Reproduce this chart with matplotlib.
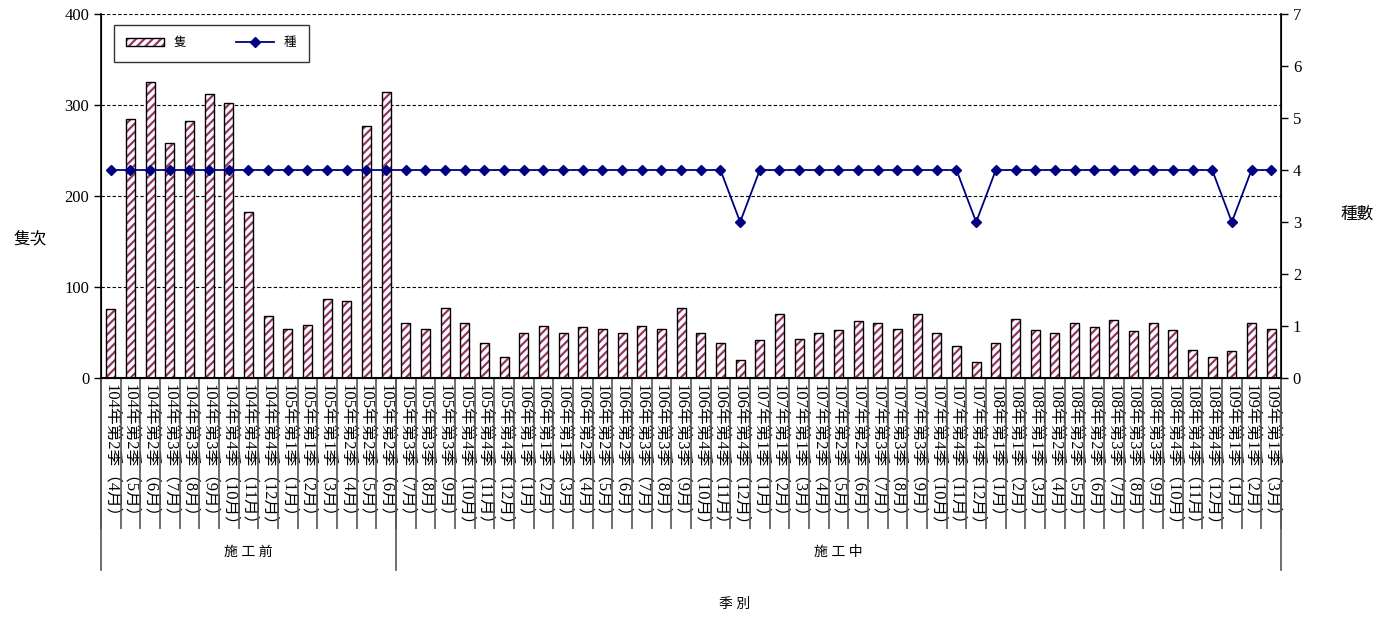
import numpy as np
import matplotlib
matplotlib.use('Agg')
import matplotlib.pyplot as plt
from matplotlib.lines import Line2D

plt.rcParams['font.family'] = ['Liberation Serif', 'Noto Sans CJK TC']
plt.rcParams['hatch.color'] = '#993366'
plt.rcParams['hatch.linewidth'] = 1.6

# category labels: year, season, month
periods = [(104, 2, 4), (104, 2, 5), (104, 2, 6), (104, 3, 7), (104, 3, 8), (104, 3, 9),
           (104, 4, 10), (104, 4, 11), (104, 4, 12), (105, 1, 1), (105, 1, 2), (105, 1, 3),
           (105, 2, 4), (105, 2, 5), (105, 2, 6), (105, 3, 7), (105, 3, 8), (105, 3, 9),
           (105, 4, 10), (105, 4, 11), (105, 4, 12),
           (106, 1, 1), (106, 1, 2), (106, 1, 3), (106, 2, 4), (106, 2, 5), (106, 2, 6),
           (106, 3, 7), (106, 3, 8), (106, 3, 9), (106, 4, 10), (106, 4, 11), (106, 4, 12),
           (107, 1, 1), (107, 1, 2), (107, 1, 3), (107, 2, 4), (107, 2, 5), (107, 2, 6),
           (107, 3, 7), (107, 3, 8), (107, 3, 9), (107, 4, 10), (107, 4, 11), (107, 4, 12),
           (108, 1, 1), (108, 1, 2), (108, 1, 3), (108, 2, 4), (108, 2, 5), (108, 2, 6),
           (108, 3, 7), (108, 3, 8), (108, 3, 9), (108, 4, 10), (108, 4, 11), (108, 4, 12),
           (109, 1, 1), (109, 1, 2), (109, 1, 3)]
labels = ['%d年第%d季（%d月）' % p for p in periods]

counts = [76, 285, 325, 258, 282, 312, 302, 182, 68, 54, 58, 87, 85, 277, 314,
          60, 54, 77, 61, 39, 23,
          50, 57, 49, 56, 54, 50, 57, 54, 77, 50, 38, 20,
          42, 70, 43, 49, 53, 63, 61, 54, 70, 50, 35, 18,
          39, 65, 53, 50, 61, 56, 64, 52, 61, 53, 31, 23,
          30, 61, 54]
species = [4] * 32 + [3] + [4] * 11 + [3] + [4] * 12 + [3, 4, 4]

groups = ['施 工 前', '施 工 中']
group_sizes = [15, 45]

fig = plt.figure(figsize=(13.81, 6.19), dpi=100)
ax = fig.add_axes([0.0731, 0.3893, 0.8545, 0.5881])
ax2 = ax.twinx()

x = np.arange(len(counts))
b1 = ax.bar(x, counts, width=0.45, color='white', hatch='////', linewidth=0, zorder=2)
b2 = ax.bar(x, counts, width=0.45, fill=False, edgecolor='black', linewidth=1.0, zorder=3)
ln, = ax2.plot(x, species, color='#000080', marker='D', markersize=5, linewidth=1.3)

ax.set_xlim(-0.5, len(counts) - 0.5)
ax.set_ylim(0, 400)
ax.set_yticks([0, 100, 200, 300, 400])
ax2.set_ylim(0, 7)
ax2.set_yticks(range(8))
ax.yaxis.grid(True, color='black', linestyle=(0, (3, 2)), linewidth=0.8)
ax.set_axisbelow(True)
for a in (ax, ax2):
    a.spines['top'].set_visible(False)
    a.tick_params(axis='y', labelsize=12, direction='out', length=5, width=1)
ax2.spines['right'].set_linewidth(1.2)
ax.spines['left'].set_linewidth(1.2)
ax.spines['bottom'].set_linewidth(1.5)

ax.set_xticks(x)
ax.set_xticklabels(labels, rotation=270, fontsize=12, va='top', ha='center')
ax.tick_params(axis='x', which='major', length=0, pad=4)
ax.set_xticks(np.arange(len(counts) + 1) - 0.5, minor=True)
ax.tick_params(axis='x', which='minor', length=109, width=1.2, color='#555555')

# group separators and labels
edges = np.concatenate([[0], np.cumsum(group_sizes)]) - 0.5
trans = ax.get_xaxis_transform()
for e in edges:
    ax.add_line(Line2D([e, e], [0, -0.527], transform=trans, color='#555555',
                       linewidth=1.2, clip_on=False))
for g, lo, hi in zip(groups, edges[:-1], edges[1:]):
    ax.text((lo + hi) / 2, -0.48, g, transform=trans, ha='center', va='center', fontsize=10)

fig.text(0.532, 0.023, '季 別', ha='center', va='center', fontsize=10)
fig.text(0.0217, 0.611, '隻次', ha='center', va='center', fontsize=12)
fig.text(0.9826, 0.653, '種數', ha='center', va='center', fontsize=12)

leg = ax.legend([(b1, b2), ln], ['隻', '種'], loc='upper left', bbox_to_anchor=(0.011, 0.97),
                ncol=2, frameon=True, fancybox=False, fontsize=9, borderpad=1.0,
                handlelength=3, columnspacing=4, borderaxespad=0)
leg.get_frame().set_edgecolor('black')
leg.get_frame().set_linewidth(1.0)

fig.savefig('out.png', dpi=100)
